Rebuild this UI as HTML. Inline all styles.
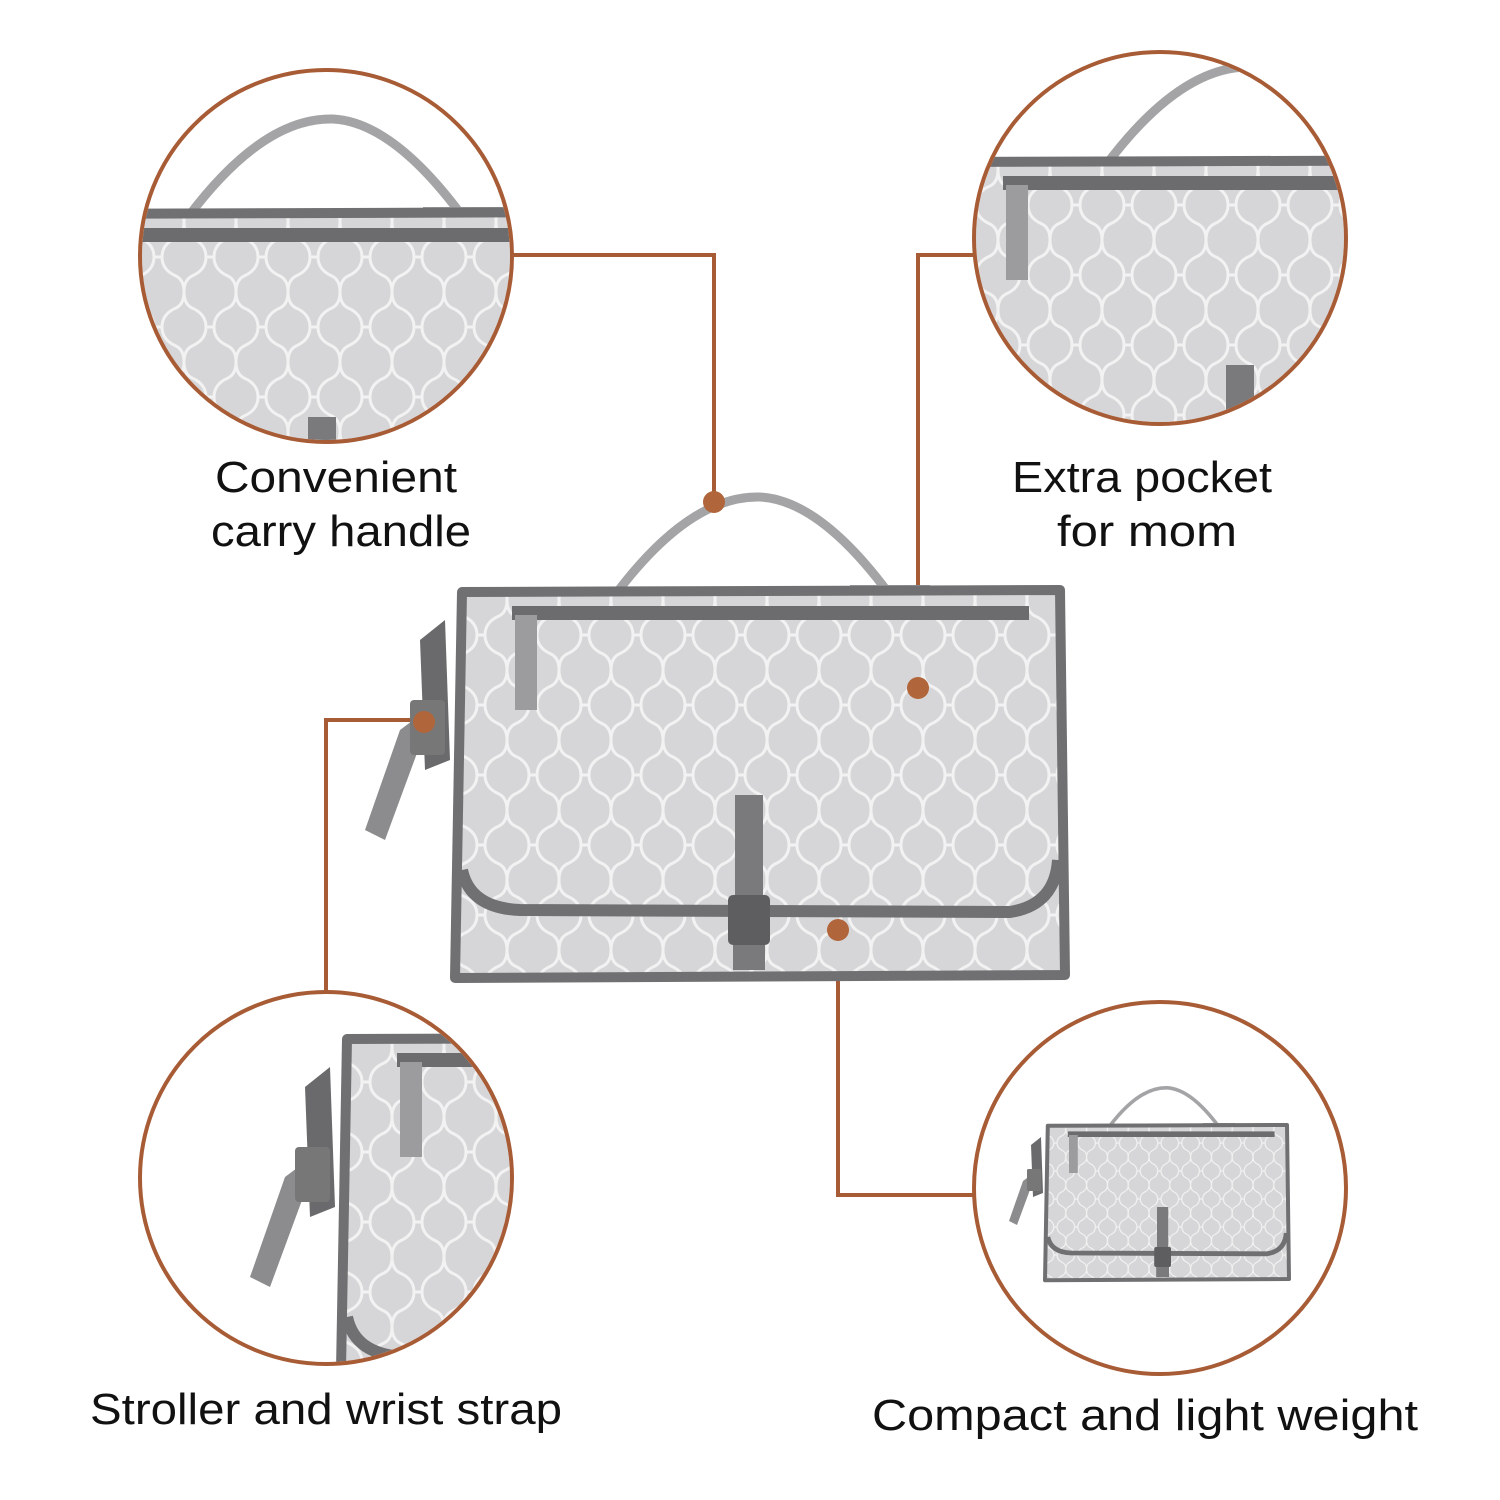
<!DOCTYPE html>
<html><head><meta charset="utf-8"><style>
html,body{margin:0;padding:0;background:#fff;}
svg{display:block}
text{font-family:"Liberation Sans",sans-serif;fill:#111;}
</style></head><body>
<svg width="1500" height="1500" viewBox="0 0 1500 1500" xmlns="http://www.w3.org/2000/svg">
<defs>
 <pattern id="pat" width="52" height="70" patternUnits="userSpaceOnUse" x="455" y="600">
  <rect width="52" height="70" fill="#d6d6d8"/>
  <path d="M0 0 Q0 12 8 16 Q22 22 22 35 Q22 48 8 54 Q0 58 0 70 M52 0 Q52 12 44 16 Q30 22 30 35 Q30 48 44 54 Q52 58 52 70 M22 35 L30 35" fill="none" stroke="#f2f2f2" stroke-width="3"/>
 </pattern>
 <g id="bag">
  <path d="M440 700 L400 730 L365 830 L385 840 L420 745 Z" fill="#8c8c8e"/>
  <path d="M420 640 L445 620 L450 760 L425 770 Z" fill="#6a6a6c"/>
  <rect x="410" y="700" width="35" height="55" fill="#777" rx="4"/>
  <path d="M615 595 Q690 495 760 497 Q820 500 890 595" fill="none" stroke="#a4a4a6" stroke-width="9"/>
  <rect x="575" y="587" width="90" height="12" fill="#a0a0a2"/>
  <rect x="850" y="585" width="80" height="12" fill="#a0a0a2"/>
  <path d="M462 592 L1060 590 L1065 975 L455 978 Z" fill="url(#pat)" stroke="#707072" stroke-width="10" stroke-linejoin="round"/>
  <rect x="512" y="606" width="517" height="14" fill="#6c6c6e"/>
  <rect x="515" y="615" width="22" height="95" fill="#9c9c9e"/>
  <path d="M462 870 Q470 908 520 910 L1010 912 Q1055 905 1058 860" fill="none" stroke="#707072" stroke-width="12"/>
  <rect x="735" y="795" width="28" height="105" fill="#7a7a7c"/>
  <rect x="728" y="895" width="42" height="50" rx="5" fill="#5e5e60"/>
  <rect x="733" y="945" width="32" height="25" fill="#7a7a7c"/>
 </g>
 <clipPath id="c1"><circle cx="326" cy="256" r="184"/></clipPath>
 <clipPath id="c2"><circle cx="1160" cy="238" r="184"/></clipPath>
 <clipPath id="c3"><circle cx="326" cy="1178" r="184"/></clipPath>
 <clipPath id="c4"><circle cx="1160" cy="1188" r="184"/></clipPath>
</defs>

<g stroke="#a85c36" stroke-width="4" fill="none">
 <polyline points="512,255 714,255 714,502"/>
 <polyline points="974,255 918,255 918,688"/>
 <polyline points="428,720 326,720 326,992"/>
 <polyline points="838,930 838,1195 974,1195"/>
</g>

<use href="#bag"/>
<g fill="#b0653a">
 <circle cx="714" cy="502" r="11"/>
 <circle cx="918" cy="688" r="11"/>
 <circle cx="424" cy="722" r="11"/>
 <circle cx="838" cy="930" r="11"/>
</g>

<g clip-path="url(#c1)"><rect x="0" y="0" width="1500" height="1500" fill="#fff"/><use href="#bag" transform="translate(-427,-378)"/></g>
<g clip-path="url(#c2)"><rect x="0" y="0" width="1500" height="1500" fill="#fff"/><use href="#bag" transform="translate(491,-430)"/></g>
<g clip-path="url(#c3)"><rect x="0" y="0" width="1500" height="1500" fill="#fff"/><use href="#bag" transform="translate(-115,447)"/></g>
<g clip-path="url(#c4)"><rect x="0" y="0" width="1500" height="1500" fill="#fff"/><use href="#bag" transform="translate(863,889) scale(0.4)"/></g>
<g fill="none" stroke="#a85c36" stroke-width="4">
 <circle cx="326" cy="256" r="186"/>
 <circle cx="1160" cy="238" r="186"/>
 <circle cx="326" cy="1178" r="186"/>
 <circle cx="1160" cy="1188" r="186"/>
</g>

<g font-size="44">
 <text x="215" y="492" textLength="242" lengthAdjust="spacingAndGlyphs">Convenient</text>
 <text x="211" y="546" textLength="260" lengthAdjust="spacingAndGlyphs">carry handle</text>
 <text x="1012" y="492" textLength="260" lengthAdjust="spacingAndGlyphs">Extra pocket</text>
 <text x="1057" y="546" textLength="180" lengthAdjust="spacingAndGlyphs">for mom</text>
 <text x="90" y="1424" textLength="472" lengthAdjust="spacingAndGlyphs">Stroller and wrist strap</text>
 <text x="872" y="1430" textLength="546" lengthAdjust="spacingAndGlyphs">Compact and light weight</text>
</g>
</svg>
</body></html>
